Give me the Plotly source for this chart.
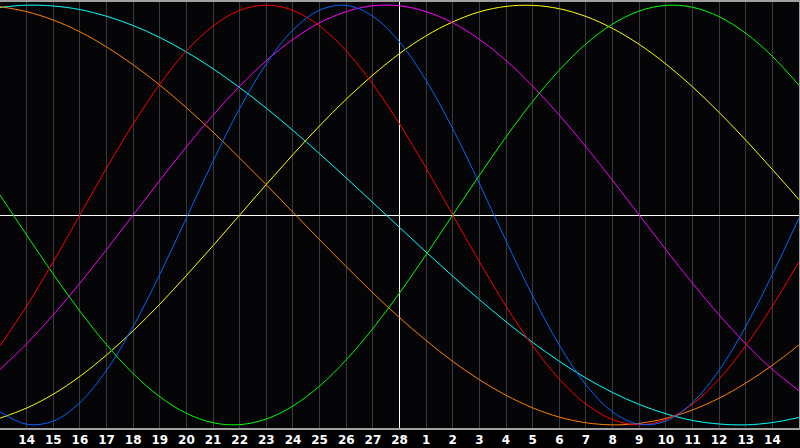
import plotly.graph_objects as go

# days relative to today (Feb 28): -15 = Feb 13 .. +15 = Mar 15
days = list(range(-15, 16))
tick_days = list(range(-14, 15))
tick_labels = ["14", "15", "16", "17", "18", "19", "20", "21", "22", "23", "24", "25", "26", "27", "28",
               "1", "2", "3", "4", "5", "6", "7", "8", "9", "10", "11", "12", "13", "14"]

# values, in percent (-100 .. 100)
physical = [-93.8, -99.7, -98.2, -89.4, -74.0, -53.1, -28.3, -1.4, 25.7, 50.8, 72.1, 88.2, 97.6, 99.9, 94.7, 82.5,
            64.1, 41.1, 15.0, -12.3, -38.6, -62.0, -80.9, -93.8, -99.7, -98.2, -89.4, -74.0, -53.1, -28.3, -1.4]
emotional = [-62.3, -43.4, -22.3, 0, 22.3, 43.4, 62.3, 78.2, 90.1, 97.5, 100, 97.5, 90.1, 78.2, 62.3, 43.4,
             22.3, 0, -22.3, -43.4, -62.3, -78.2, -90.1, -97.5, -100, -97.5, -90.1, -78.2, -62.3, -43.4, -22.3]
intellectual = [9.5, -9.5, -28.2, -45.8, -61.8, -75.6, -86.6, -94.5, -99.0, -99.9, -97.2, -91.0, -81.5, -69.0, -54.1, -37.2,
                -18.9, 0, 18.9, 37.2, 54.1, 69.0, 81.5, 91.0, 97.2, 99.9, 99.0, 94.5, 86.6, 75.6, 61.8]
intuitive = [-73.6, -61.4, -47.6, -32.5, -16.5, 0, 16.5, 32.5, 47.6, 61.4, 73.6, 83.7, 91.6, 96.9, 99.7, 99.7,
             96.9, 91.6, 83.7, 73.6, 61.4, 47.6, 32.5, 16.5, 0, -16.5, -32.5, -47.6, -61.4, -73.6, -83.7]
aesthetic = [-96.8, -92.0, -85.4, -76.9, -66.7, -55.2, -42.5, -28.8, -14.6, 0, 14.6, 28.8, 42.5, 55.2, 66.7, 76.9,
             85.4, 92.0, 96.8, 99.4, 99.9, 98.3, 94.6, 88.9, 81.3, 72.0, 61.1, 48.9, 35.7, 21.7, 7.3]
awareness = [99.3, 96.9, 92.9, 87.3, 80.1, 71.6, 61.9, 51.1, 39.5, 27.1, 14.4, 1.3, -11.8, -24.6, -37.1, -48.9,
             -59.8, -69.8, -78.5, -85.9, -91.9, -96.3, -99.0, -100, -99.3, -96.9, -92.9, -87.3, -80.1, -71.6, -61.9]
spiritual = [98.9, 100.0, 99.6, 97.9, 94.7, 90.3, 84.6, 77.7, 69.7, 60.7, 50.9, 40.3, 29.2, 17.7, 5.9, -5.9,
             -17.7, -29.2, -40.3, -50.9, -60.7, -69.7, -77.7, -84.6, -90.3, -94.7, -97.9, -99.6, -100.0, -98.9, -96.5]

series = [
    ("Spiritual", spiritual, "#00ffff"),
    ("Awareness", awareness, "#ff8000"),
    ("Aesthetic", aesthetic, "#ffff00"),
    ("Intuitive", intuitive, "#ff00ff"),
    ("Intellectual", intellectual, "#00ff00"),
    ("Emotional", emotional, "#ff0000"),
    ("Physical", physical, "#0066ff"),
]

fig = go.Figure()
for name, vals, color in series:
    fig.add_trace(go.Scatter(x=days, y=vals, name=name, mode="lines",
                             line=dict(color=color, width=1, shape="spline", smoothing=1.0)))

# zero lines mark today (x) and the baseline (y)
fig.update_xaxes(range=[-15, 15], tickmode="array", tickvals=tick_days,
                 ticktext=["<b>%s</b>" % t for t in tick_labels],
                 showgrid=True, gridcolor="#3a3a3a", gridwidth=1,
                 zeroline=True, zerolinecolor="white", zerolinewidth=1,
                 showline=True, linecolor="#a0a0a0", linewidth=2, mirror=True,
                 ticks="", tickfont=dict(color="white", size=12, family="DejaVu Sans"))
fig.update_yaxes(range=[-101.5, 101.5], showgrid=False,
                 zeroline=True, zerolinecolor="white", zerolinewidth=1,
                 showticklabels=False, showline=True, linecolor="#a0a0a0", linewidth=1, mirror=True)

fig.update_layout(width=800, height=448, margin=dict(l=0, r=0, t=0, b=20),
                  paper_bgcolor="#000000", plot_bgcolor="#050508", showlegend=False)

fig.write_html("out.html", config={"displayModeBar": False},
               post_script="document.body.style.margin='0';document.body.style.overflow='hidden';")
